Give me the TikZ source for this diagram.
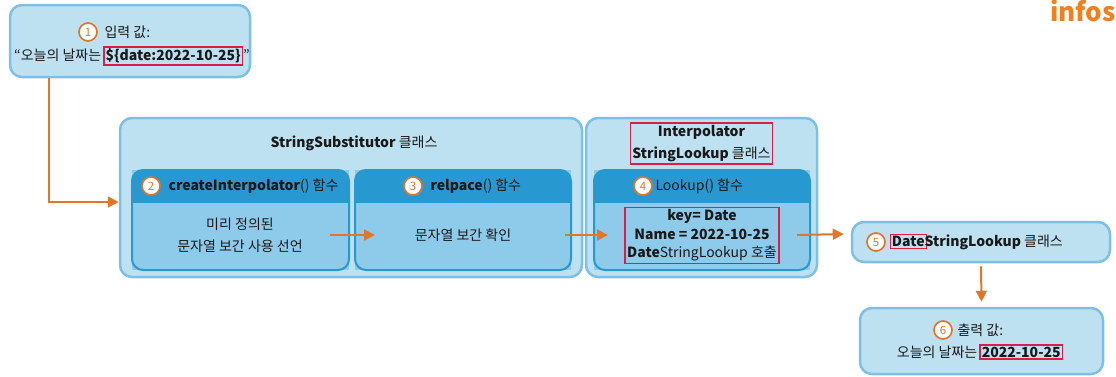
\documentclass[tikz,border=0pt]{standalone}
\usepackage{fontspec}
\setmainfont{Noto Sans CJK KR}
\usetikzlibrary{arrows.meta}
\definecolor{boxfill}{RGB}{190,225,242}
\definecolor{boxline}{RGB}{125,192,228}
\definecolor{hdr}{RGB}{40,152,208}
\definecolor{bodyc}{RGB}{142,203,235}
\definecolor{orangec}{RGB}{226,118,40}
\definecolor{hl}{RGB}{222,28,72}
\definecolor{txt}{RGB}{25,25,25}
\definecolor{logoc}{RGB}{240,128,30}
\newcommand\hlb[1]{{\setlength\fboxsep{1pt}\setlength\fboxrule{1.4pt}\color{hl}\fbox{\color{txt}#1}}}
\begin{document}
\begin{tikzpicture}[x=1pt,y=-1pt,
  font=\fontsize{14}{22}\selectfont, text=txt,
  outerbox/.style={draw=boxline, fill=boxfill, line width=2.5pt, rounded corners=12pt, inner sep=0pt},
  fnbox/.style={fill=bodyc, inner sep=0pt, outer sep=0pt},
  num/.style={circle, draw=orangec, fill=white, line width=1.7pt, minimum size=18pt, inner sep=0pt, text=orangec, font=\fontsize{11.5}{11.5}\selectfont},
  flow/.style={draw=orangec, line width=2pt, -{Triangle[length=11pt,width=11pt]}},
  hlframe/.style={draw=hl, line width=1.5pt, inner sep=2pt}]
\useasboundingbox (0,0) rectangle (1116,376);
\fill[white] (0,0) rectangle (1116,376);
% logo
\node[anchor=west, text=logoc, font=\fontsize{26}{26}\selectfont\bfseries, inner sep=0pt] (logo) at (1050,11) {infos};
% containers
\node[outerbox, minimum width=240pt, minimum height=72pt] (inp) at (130,41) {};
\node[outerbox, minimum width=462pt, minimum height=159pt] (sub) at (351,197.5) {};
\node[outerbox, minimum width=231pt, minimum height=159pt] (itp) at (701.5,197.5) {};
\node[outerbox, minimum width=258pt, minimum height=40pt] (b5box) at (981,242) {};
\node[outerbox, minimum width=243pt, minimum height=66pt] (b6box) at (981.5,341) {};
% function boxes
\node[fnbox, minimum width=217pt, minimum height=100pt] (f2) at (240.5,220) {};
\node[fnbox, minimum width=216pt, minimum height=100pt] (f3) at (463,220) {};
\node[fnbox, minimum width=216pt, minimum height=100pt] (f4) at (702,220) {};
\foreach \n in {f2,f3,f4}{
  \begin{scope}
    \clip[rounded corners=11pt] (\n.south west) rectangle (\n.north east);
    \fill[bodyc] (\n.south west) rectangle (\n.north east);
    \fill[hdr] (\n.north west) rectangle ([yshift=-33pt]\n.north east);
  \end{scope}
  \draw[hdr, line width=2pt, rounded corners=11pt] (\n.south west) rectangle (\n.north east);
}
% input
\node[num] (n1) at (88,32) {1};
\node[anchor=west] (t1) at (101,32) {입력 값:};
\node (t1b) at (132,56) {“오늘의 날짜는\hspace{2pt}\hlb{\textbf{\$\{date:2022-10-25\}}}”};
% titles
\node (tsub) at (354,143) {\textbf{StringSubstitutor} 클래스};
\node[hlframe, align=center] (titp) at (701.5,143.5) {\textbf{Interpolator}\\\textbf{StringLookup} 클래스};
% headers
\node[num] (n2) at (151,186) {2};
\node[anchor=west] (h2) at (165,186) {\textbf{createInterpolator}() 함수};
\node[num] (n3) at (413,186) {3};
\node[anchor=west] (h3) at (427,186) {\textbf{relpace}() 함수};
\node[num] (n4) at (643,186) {4};
\node[anchor=west] (h4) at (652,186) {Lookup() 함수};
% bodies
\node[align=center] (b2) at (240,235) {미리 정의된\\문자열 보간 사용 선언};
\node (b3) at (463,235) {문자열 보간 확인};
\node[hlframe, align=center, font=\fontsize{14}{18.5}\selectfont] (b4) at (702,235.5) {\textbf{key= Date}\\\textbf{Name = 2022-10-25}\\\textbf{Date}StringLookup 호출};
% box 5
\node[num] (n5) at (876,242) {5};
\node[anchor=west] (t5) at (886,242) {\hlb{\textbf{Date}}\kern-2.4pt\textbf{StringLookup} 클래스};
% box 6
\node[num] (n6) at (943,330) {6};
\node[anchor=west] (t6) at (954,330) {출력 값:};
\node (t6b) at (980,352) {오늘의 날짜는\hspace{2pt}\hlb{\textbf{2022-10-25}}};
% connectors
\coordinate (c1) at (49,202);
\draw[flow] (inp.south -| c1) |- (sub.west |- c1);
\draw[flow] ([shift={(-19pt,-15pt)}]f2.east) -- ([shift={(20pt,-15pt)}]f3.west);
\draw[flow] ([shift={(-6pt,-15pt)}]f3.east) -- ([shift={(14pt,-15pt)}]f4.west);
\draw[flow] ([shift={(-13pt,-15pt)}]f4.east) -- ([shift={(-7pt,8pt)}]b5box.west);
\draw[flow] ([yshift=-3pt]b5box.south) -- ([yshift=5pt]b6box.north);
\end{tikzpicture}
\end{document}
